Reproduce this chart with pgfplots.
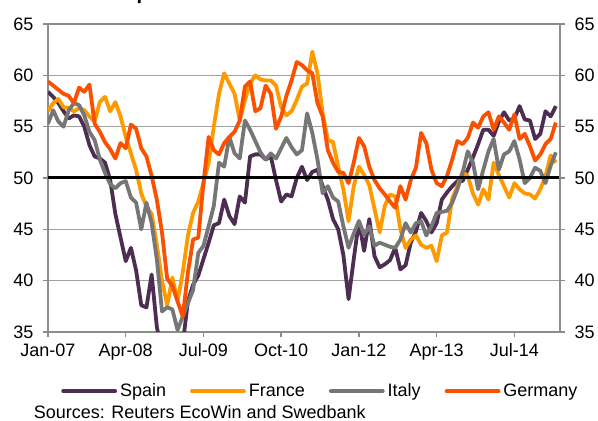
\documentclass[border=0pt]{standalone}
\usepackage{fontspec}
\setmainfont{Liberation Sans}
\usepackage{pgfplots}
\usepackage{pgfplotstable}
\pgfplotsset{compat=1.18}
\definecolor{cSpain}{RGB}{77,46,82}
\definecolor{cFrance}{RGB}{255,153,0}
\definecolor{cItaly}{RGB}{118,118,118}
\definecolor{cGermany}{RGB}{250,80,0}
\definecolor{cGrid}{RGB}{160,160,160}
\definecolor{cAxis}{RGB}{140,140,140}
\pgfplotstableread{
m S F I G
0 58.4 56.5 55.3 59.4
1 57.9 57.3 56.6 59.0
2 57.3 57.7 55.5 58.6
3 56.5 56.9 55.0 58.2
4 55.8 56.8 56.6 58.0
5 56.1 56.5 57.3 57.3
6 56.0 56.8 57.1 58.8
7 55.0 56.6 56.1 58.4
8 53.2 56.0 54.5 59.1
9 52.1 55.5 53.7 55.3
10 51.9 57.4 51.8 54.5
11 51.5 57.9 50.5 53.5
12 49.8 56.5 49.4 52.8
13 46.5 57.4 49.0 51.9
14 44.2 56.0 49.5 53.4
15 41.9 54.0 49.7 52.9
16 43.2 52.4 48.1 55.2
17 41.0 50.8 47.6 54.8
18 37.6 48.5 45.0 52.9
19 37.4 47.2 47.6 52.1
20 40.6 46.5 45.6 50.2
21 35.5 43.5 42.1 47.9
22 33.0 40.0 37.0 44.7
23 32.0 37.6 37.4 40.2
24 31.5 40.3 37.2 39.5
25 32.0 38.0 35.2 38.0
26 33.8 40.8 36.5 36.5
27 38.0 44.4 37.8 40.8
28 39.6 46.6 39.1 44.0
29 40.5 47.7 42.7 44.2
30 42.1 49.5 43.4 49.5
31 43.7 51.5 45.3 54.0
32 45.4 55.0 47.3 52.7
33 45.6 58.2 51.5 52.3
34 47.9 60.2 51.1 53.4
35 46.3 59.2 54.0 54.0
36 45.5 58.2 52.4 54.5
37 48.2 55.6 51.9 55.6
38 47.6 57.6 55.6 58.9
39 52.1 59.2 54.7 59.4
40 52.3 60.0 53.6 56.5
41 52.3 59.6 52.5 56.8
42 51.8 59.5 51.8 59.0
43 52.1 59.5 52.4 58.2
44 49.8 59.0 51.9 54.8
45 47.7 56.9 52.9 56.0
46 48.4 56.1 53.9 58.0
47 48.2 56.5 53.0 59.5
48 50.0 57.6 52.3 61.3
49 51.1 58.9 52.7 61.0
50 49.8 59.2 56.3 60.5
51 50.6 62.3 54.4 60.2
52 50.8 60.2 51.8 57.3
53 49.2 56.3 48.5 56.0
54 47.9 53.7 49.2 52.7
55 46.0 53.5 48.1 51.5
56 45.0 51.1 47.7 50.6
57 42.5 48.9 45.3 50.5
58 38.2 45.8 43.2 49.5
59 42.1 49.2 44.6 51.5
60 45.8 51.1 45.8 53.9
61 42.9 50.3 44.5 53.1
62 46.0 49.3 45.3 51.1
63 42.4 47.0 43.4 49.8
64 41.3 44.7 43.7 49.0
65 41.6 47.3 43.5 48.4
66 42.0 48.4 43.3 47.7
67 43.2 48.2 43.2 47.1
68 41.1 45.0 44.0 49.2
69 41.5 43.2 45.6 47.9
70 43.7 44.0 44.7 49.8
71 44.8 44.4 45.6 51.0
72 46.6 43.5 45.8 54.4
73 45.8 43.2 44.4 53.4
74 44.7 43.4 45.3 50.8
75 45.6 41.9 46.6 49.5
76 47.9 44.4 46.7 49.2
77 48.6 44.7 46.8 50.2
78 49.2 48.0 47.6 51.8
79 49.7 49.2 48.9 53.6
80 49.7 50.6 50.5 53.3
81 50.8 50.2 52.6 53.9
82 52.0 48.5 51.5 55.4
83 53.3 47.4 48.9 54.9
84 54.7 48.9 50.8 56.0
85 54.7 47.9 52.6 56.4
86 54.1 51.5 53.8 54.7
87 55.5 50.3 50.8 56.0
88 56.4 49.2 52.3 55.4
89 55.6 48.1 52.6 54.7
90 55.8 49.5 53.6 56.2
91 57.0 48.9 51.8 53.8
92 55.7 48.5 49.5 54.3
93 55.6 48.4 50.0 53.1
94 53.8 48.0 51.0 51.7
95 54.3 48.9 50.7 52.3
96 56.5 50.2 49.5 53.3
97 56.0 52.2 51.2 53.8
98 57.0 51.5 52.5 55.4
}\pmidata
\begin{document}
\begin{tikzpicture}
\path[use as bounding box] (-48bp,-89bp) rectangle (550bp,332bp);
\node[anchor=base west, inner sep=0pt, font=\bfseries\fontsize{20bp}{22bp}\selectfont] at (88.3bp,332.9bp) {p};
\pgfplotsset{
  common/.style={
    scale only axis, width=512bp, height=308bp,
    xmin=0, xmax=98.8, ymin=35, ymax=65,
    ytick={35,40,...,65},
    tick align=outside, major tick length=5bp,
    tick style={draw=cAxis, line width=1.5bp},
    axis line style={draw=cAxis, line width=1.5bp},
    ticklabel style={font=\fontsize{18bp}{20bp}\selectfont},
    /pgf/number format/assume math mode=true,
  }
}
\begin{axis}[common,
  xtick={0,15,...,90},
  xticklabels={Jan-07,Apr-08,Jul-09,Oct-10,Jan-12,Apr-13,Jul-14},
  xtick pos=left, ytick pos=left,
  yticklabel style={xshift=-6bp},
  xticklabel style={yshift=-3bp},
  ymajorgrids, grid style={draw=cGrid, line width=1.5bp},
  legend columns=4,
  legend style={at={(0.532,-0.155)}, anchor=north, draw=none, fill=none,
    font=\fontsize{18bp}{20bp}\selectfont,
    /tikz/every odd column/.append style={column sep=1bp},
    /tikz/every even column/.append style={column sep=22bp}},
  legend image code/.code={\draw[#1, line cap=round] (0bp,0bp) -- (52bp,0bp);},
  every axis plot/.append style={line width=3.8bp, line join=round},
]
\addplot[cSpain] table[x=m, y=S] {\pmidata};
\addlegendentry{Spain}
\addplot[cFrance] table[x=m, y=F] {\pmidata};
\addlegendentry{France}
\addplot[cItaly] table[x=m, y=I] {\pmidata};
\addlegendentry{Italy}
\addplot[cGermany] table[x=m, y=G] {\pmidata};
\addlegendentry{Germany}
\addplot[black, line width=3bp, forget plot] coordinates {(0,50) (98.8,50)};
\end{axis}
\begin{axis}[common,
  axis x line=none, axis y line*=right,
  ytick pos=right, yticklabel pos=right,
  yticklabel style={xshift=6bp},
]
\addplot[draw=none] coordinates {(0,50)};
\end{axis}
\node[anchor=west, inner sep=0pt, font=\fontsize{18bp}{20bp}\selectfont] at (-14.4bp,-80bp) {Sources: Reuters EcoWin and Swedbank};
\end{tikzpicture}
\end{document}
